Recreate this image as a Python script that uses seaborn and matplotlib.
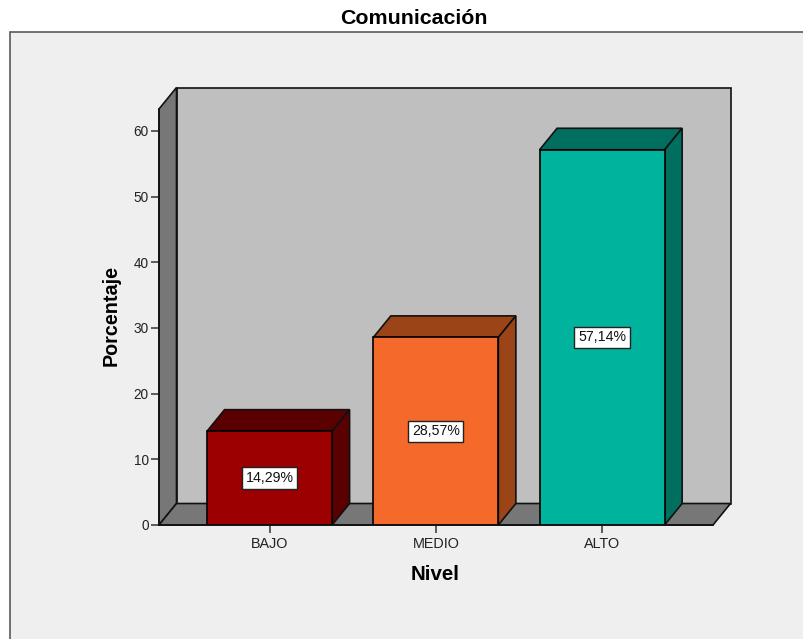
'''bar chart with fake 3d depth, Comunicacion by Nivel'''
import matplotlib
matplotlib.use('Agg')
import matplotlib.pyplot as plt
from matplotlib.patches import Polygon, Rectangle
import seaborn as sns

categories = ['BAJO', 'MEDIO', 'ALTO']
values = [14.29, 28.57, 57.14]
value_labels = ['14,29%', '28,57%', '57,14%']
y_ticks = [0, 10, 20, 30, 40, 50, 60]
front_colors = ['#9C0000', '#F5692A', '#00B39D']
dark_colors = ['#5A0000', '#9A4418', '#006F60']

W, H = 804, 639
sns.set_style('white')
plt.rcParams['font.family'] = ['Liberation Sans', 'DejaVu Sans']

fig = plt.figure(figsize=(W / 100, H / 100), dpi=100, facecolor='white')

#grey panel, runs off the right and bottom edges
#zorder below the axes or it hides them
fig.add_artist(Rectangle((10 / W, -0.02), 1.0, 1 - 32 / H + 0.02, transform=fig.transFigure,
                         facecolor='#EFEFEF', edgecolor='#5A5A5A', linewidth=1.2, zorder=-1))

#pixels of the front plane
left, right, bottom, top = 159, 713, 525, 109
ax = fig.add_axes([left / W, 1 - bottom / H, (right - left) / W, (bottom - top) / H])
ax.patch.set_visible(False)

sns.barplot(x=categories, y=values, hue=categories, palette=front_colors, width=0.752,
            dodge=False, legend=False, saturation=1, edgecolor='black', linewidth=1.2,
            zorder=3, ax=ax)

ax.set_xlim(-0.665, 2.667)
ax.set_ylim(0, 63.35)
x0, x1 = ax.get_xlim()
y0, y1 = ax.get_ylim()

#depth of the box in data units
dx = 17.5 / 166.25
dy = 21.5 / 6.567


def face(points, color, zorder):
    '''add one flat face of the box'''
    ax.add_patch(Polygon(points, closed=True, facecolor=color, edgecolor='#111111',
                         linewidth=1.2, zorder=zorder, clip_on=False))


face([(x0 + dx, y0 + dy), (x1 + dx, y0 + dy), (x1 + dx, y1 + dy), (x0 + dx, y1 + dy)], '#BFBFBF', 1)
face([(x0, y0), (x0 + dx, y0 + dy), (x0 + dx, y1 + dy), (x0, y1)], '#777777', 1.1)
face([(x0, y0), (x1, y0), (x1 + dx, y0 + dy), (x0 + dx, y0 + dy)], '#777777', 1.1)

for bar, dark, label in zip(ax.patches[:len(values)], dark_colors, value_labels):
    bx0, bx1 = bar.get_x(), bar.get_x() + bar.get_width()
    h = bar.get_height()
    face([(bx0, h), (bx1, h), (bx1 + dx, h + dy), (bx0 + dx, h + dy)], dark, 2)
    face([(bx1, 0), (bx1, h), (bx1 + dx, h + dy), (bx1 + dx, dy)], dark, 2)
    ax.text((bx0 + bx1) / 2, h / 2, label, ha='center', va='center', fontsize=10.2, color='#111111',
            zorder=5, bbox={'boxstyle': 'square,pad=0.26', 'facecolor': 'white',
                            'edgecolor': '#222222', 'linewidth': 1.0})

ax.set_yticks(y_ticks)
ax.tick_params(axis='both', left=True, bottom=True, length=5.5, width=1.1, color='#333333',
               labelsize=9.8, labelcolor='#222222', pad=2)
ax.tick_params(axis='x', pad=3, labelsize=10.4)
sns.despine(ax=ax)
for side in ['left', 'bottom']:
    ax.spines[side].set_color('#111111')
    ax.spines[side].set_linewidth(1.2)
    ax.spines[side].set_zorder(4)

fig.text(111 / W, 1 - 315.5 / H, 'Porcentaje', rotation=90, ha='center', va='center',
         fontsize=14.2, fontweight='bold', color='black')
fig.text(435 / W, 1 - 575 / H, 'Nivel', ha='center', va='center',
         fontsize=14.8, fontweight='bold', color='black')
fig.text(414 / W, 1 - 18 / H, 'Comunicación', ha='center', va='center',
         fontsize=15.4, fontweight='bold', color='black')

fig.savefig('out.png', dpi=100)
